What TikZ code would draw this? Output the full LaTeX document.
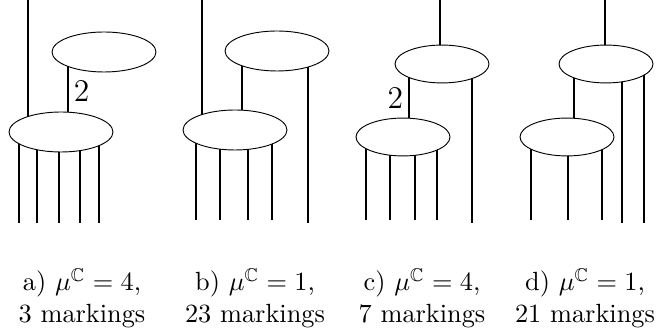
\documentclass[tikz,border=0pt]{standalone}
\usepackage{amssymb}
\usetikzlibrary{shapes.geometric,backgrounds}

\begin{document}
\begin{tikzpicture}[x=0.38pt, y=-0.38pt, line width=0.35pt,
    bigblob/.style={ellipse, draw, fill=white, inner sep=0pt,
      minimum width=39.5pt, minimum height=15.2pt},
    smallblob/.style={ellipse, draw, fill=white, inner sep=0pt,
      minimum width=35.7pt, minimum height=14.4pt},
    mult/.style={inner sep=2pt, font=\large},
    caption/.style={align=center}]
  % x, y in pixels of the 658 x 330 frame, y going down
  \useasboundingbox (0,0) rectangle (658,330);

  % ellipses (white, legs go under them)
  \node[bigblob] (upA) at (104,52) {};
  \node[bigblob] (lowA) at (61,132) {};
  \node[bigblob] (upB) at (277,51) {};
  \node[bigblob] (lowB) at (235,130) {};
  \node[smallblob] (upC) at (442,64) {};
  \node[smallblob] (lowC) at (403,137) {};
  \node[smallblob] (upD) at (606,64) {};
  \node[smallblob] (lowD) at (567,137) {};

  % free ends of the legs
  \foreach \x [count=\i] in {19,37,59,80,99} \coordinate (a\i) at (\x,223);
  \foreach \x [count=\i] in {196,220,248,272} \coordinate (b\i) at (\x,220);
  \coordinate (b5) at (308,223);
  \foreach \x [count=\i] in {366,390,415,437} \coordinate (c\i) at (\x,220);
  \coordinate (c5) at (472,223);
  \foreach \x [count=\i] in {531,568,602} \coordinate (d\i) at (\x,220);
  \coordinate (d4) at (622,223);
  \coordinate (d5) at (644,223);
  \coordinate (topA) at (28,0);
  \coordinate (topB) at (202,0);
  \coordinate (topC) at (440,0);
  \coordinate (topD) at (605,0);
  \coordinate (linkA) at (68,91);
  \coordinate (linkB) at (242,90);
  \coordinate (linkC) at (409,98);
  \coordinate (linkD) at (574,100);

  \begin{pgfonlayer}{background}
    % a)
    \draw (topA) -- (lowA.center -| topA);
    \draw (upA.center -| linkA) -- (lowA.center -| linkA);
    \foreach \i in {1,...,5} \draw (lowA.center -| a\i) -- (a\i);
    % b)
    \draw (topB) -- (lowB.center -| topB);
    \draw (upB.center -| linkB) -- (lowB.center -| linkB);
    \foreach \i in {1,...,4} \draw (lowB.center -| b\i) -- (b\i);
    \draw (upB.center -| b5) -- (b5);
    % c)
    \draw (topC) -- (upC.center -| topC);
    \draw (upC.center -| linkC) -- (lowC.center -| linkC);
    \foreach \i in {1,...,4} \draw (lowC.center -| c\i) -- (c\i);
    \draw (upC.center -| c5) -- (c5);
    % d)
    \draw (topD) -- (upD.center -| topD);
    \draw (upD.center -| linkD) -- (lowD.center -| linkD);
    \foreach \i in {1,...,3} \draw (lowD.center -| d\i) -- (d\i);
    \draw (upD.center -| d4) -- (d4);
    \draw (upD.center -| d5) -- (d5);
  \end{pgfonlayer}

  % multiplicities
  \node[mult, anchor=west] (twoA) at (linkA) {2};
  \node[mult, anchor=east] (twoC) at (linkC) {2};

  % captions
  \node[caption] (capA) at (82,298) {a) $\mu^{\mathbb{C}}=4$,\\3 markings};
  \node[caption] (capB) at (255,298) {b) $\mu^{\mathbb{C}}=1$,\\23 markings};
  \node[caption] (capC) at (422,298) {c) $\mu^{\mathbb{C}}=4$,\\7 markings};
  \node[caption] (capD) at (585,298) {d) $\mu^{\mathbb{C}}=1$,\\21 markings};
\end{tikzpicture}
\end{document}
